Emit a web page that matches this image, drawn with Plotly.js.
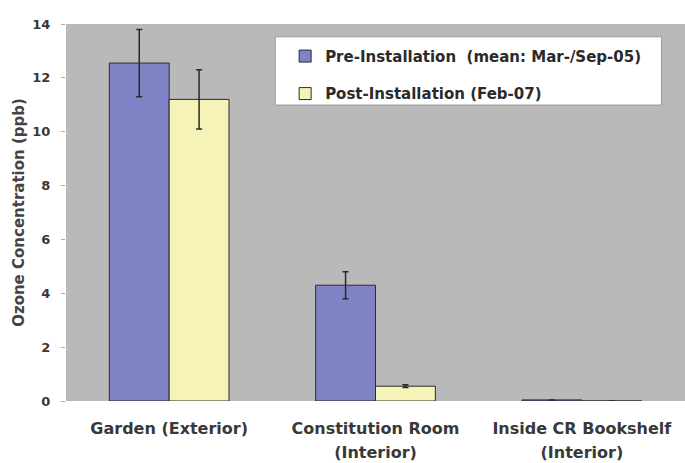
<!DOCTYPE html>
<html>
<head>
<meta charset="utf-8">
<script src="https://cdn.plot.ly/plotly-3.0.1.min.js"></script>
<style>html,body{margin:0;padding:0;background:#fff;}</style>
</head>
<body>
<div id="chart" style="width:685px;height:463px;"></div>
<script>
var categories = ["Garden (Exterior)", "Constitution Room (Interior)", "Inside CR Bookshelf (Interior)"];
var labelLine1 = ["Garden (Exterior)", "Constitution Room", "Inside CR Bookshelf"];
var labelLine2 = ["", "(Interior)", "(Interior)"];
var seriesNames = ["Pre-Installation  (mean: Mar-/Sep-05)", "Post-Installation (Feb-07)"];
var preValues = [12.55, 4.3, 0.04];
var preErrors = [1.25, 0.5, 0];
var postValues = [11.2, 0.55, 0];
var postErrors = [1.1, 0.05, 0];
var yTicks = [0, 2, 4, 6, 8, 10, 12, 14];

var font = "DejaVu Sans, sans-serif";
var labelIndex = labelLine2.map(function (_, i) { return i; });

var traces = [
  {
    type: "bar", name: seriesNames[0], x: categories, y: preValues,
    legendgroup: "a",
    marker: {color: "#8084c6", line: {color: "#2a2a3a", width: 1}},
    error_y: {type: "data", array: preErrors, visible: true, color: "#2a2a2a", thickness: 1.5, width: 3}
  },
  {
    type: "bar", name: seriesNames[1], x: categories, y: postValues,
    legendgroup: "b",
    marker: {color: "#f6f3b9", line: {color: "#2a2a2a", width: 1}},
    error_y: {type: "data", array: postErrors, visible: true, color: "#2a2a2a", thickness: 1.5, width: 3}
  },
  {
    type: "scatter", mode: "none", x: labelIndex, y: preValues,
    xaxis: "x2", yaxis: "y", showlegend: false, hoverinfo: "skip"
  }
];

var tickFont = {family: font, size: 16, color: "#383838", weight: "bold"};

var layout = {
  width: 685, height: 463,
  margin: {l: 66, r: 0, t: 24, b: 62},
  paper_bgcolor: "#ffffff",
  plot_bgcolor: "#b9b9b9",
  barmode: "group",
  bargap: 0.42,
  bargroupgap: 0,
  showlegend: true,
  font: {family: font, color: "#383838"},
  xaxis: {
    type: "category",
    tickvals: categories,
    ticktext: labelLine1,
    showgrid: false, zeroline: false, showline: false,
    ticks: "",
    ticklabelstandoff: 16,
    tickfont: tickFont
  },
  xaxis2: {
    overlaying: "x", anchor: "y", side: "bottom",
    type: "linear",
    range: [-0.5, 2.5],
    tickmode: "array",
    tickvals: labelIndex,
    ticktext: labelLine2,
    showgrid: false, zeroline: false, showline: false,
    ticks: "",
    ticklabelstandoff: 40,
    tickfont: tickFont
  },
  yaxis: {
    range: [0, 14],
    tickvals: yTicks,
    ticktext: yTicks.map(String),
    showgrid: false, zeroline: false, showline: false,
    ticks: "outside", ticklen: 4, tickcolor: "#aaaaaa",
    ticklabelstandoff: 8,
    tickfont: {family: font, size: 13, color: "#383838", weight: "bold"},
    title: {text: "Ozone Concentration (ppb)", font: {family: font, size: 15, color: "#444444", weight: "bold"}, standoff: 4}
  },
  legend: {
    x: 0.354, y: 0.958, xanchor: "left", yanchor: "top",
    bgcolor: "rgba(0,0,0,0)",
    borderwidth: 0,
    traceorder: "grouped",
    tracegroupgap: 15,
    font: {family: font, size: 15, color: "#2a2a2a", weight: "bold"}
  },
  shapes: [
    {type: "rect", xref: "paper", yref: "paper", x0: 0.338, x1: 0.962, y0: 0.785, y1: 0.966,
     fillcolor: "#ffffff", line: {color: "#9a9a9a", width: 1}, layer: "below"}
  ]
};

Plotly.newPlot("chart", traces, layout, {displayModeBar: false, staticPlot: true});
</script>
</body>
</html>
